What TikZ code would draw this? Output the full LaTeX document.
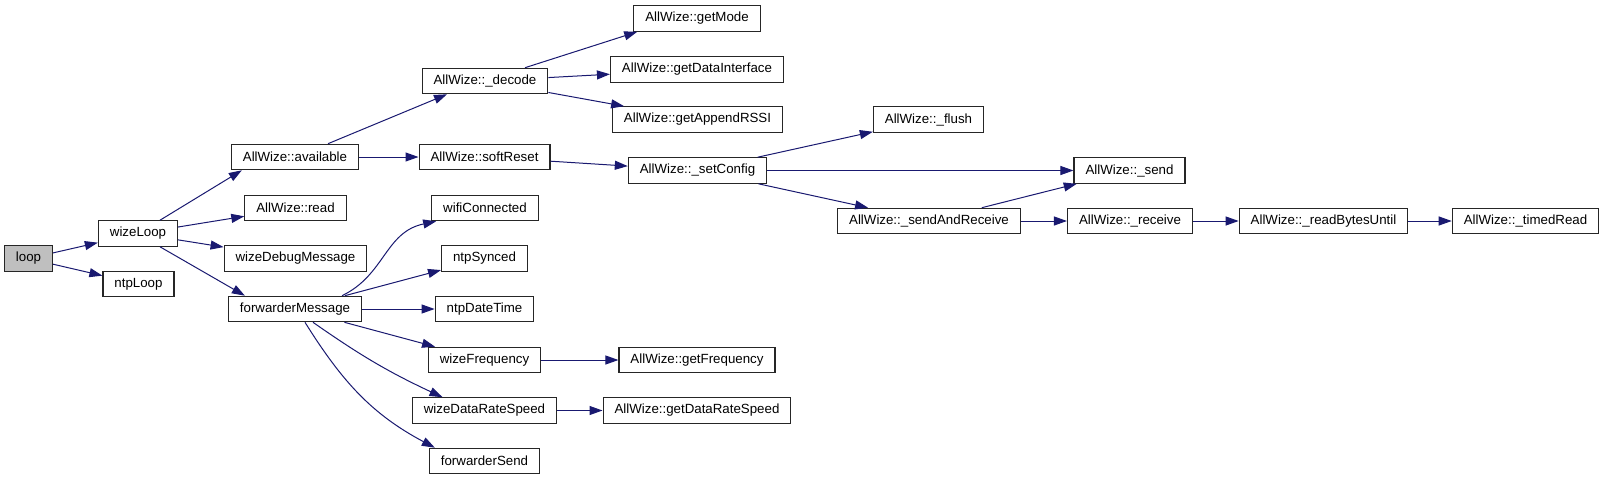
\documentclass[tikz,border=0pt]{standalone}
\usepackage{fontspec}
\setmainfont{Liberation Sans}
\usepackage{xcolor}
\usetikzlibrary{arrows.meta}
\definecolor{edgeBlue}{HTML}{191970}
\definecolor{rootGray}{HTML}{BFBFBF}

\begin{document}
\begin{tikzpicture}[
    x=1pt, y=1pt,
    fn/.style={draw=black!85, fill=white, line width=1.1pt, inner xsep=11.5pt, inner ysep=0pt,
               minimum height=25.5pt, font=\fontsize{13.3}{16}\selectfont},
    root/.style={fn, fill=rootGray},
    call/.style={draw=edgeBlue, line width=1pt, -{Triangle[length=13pt,width=9pt]}},
]
  \useasboundingbox (0,0) rectangle (1607,-480);
  % column 0/1
  \node[root] (loop)     at (28.5,-258.5) {loop};
  \node[fn]   (wizeLoop) at (138,-233.5)  {wizeLoop};
  \node[fn]   (ntpLoop)  at (138.5,-284)  {ntpLoop};
  % column 2
  \node[fn] (available) at (295,-157)   {AllWize::available};
  \node[fn] (read)      at (295.5,-208) {AllWize::read};
  \node[fn] (debugMsg)  at (295.5,-258.5) {wizeDebugMessage};
  \node[fn] (fwdMsg)    at (295,-309)   {forwarderMessage};
  % column 3
  \node[fn] (decode)    at (485,-81)     {AllWize::\_decode};
  \node[fn] (softReset) at (484.5,-157)  {AllWize::softReset};
  \node[fn] (wifiConn)  at (485,-208)    {wifiConnected};
  \node[fn] (ntpSynced) at (484.5,-258.5) {ntpSynced};
  \node[fn] (ntpDate)   at (484.5,-309)  {ntpDateTime};
  \node[fn] (wizeFreq)  at (484.5,-360)  {wizeFrequency};
  \node[fn] (wizeRate)  at (484.5,-410.5) {wizeDataRateSpeed};
  \node[fn] (fwdSend)   at (484.5,-461)  {forwarderSend};
  % column 4
  \node[fn] (getMode)   at (697,-18.5)   {AllWize::getMode};
  \node[fn] (getIface)  at (697,-69.5)   {AllWize::getDataInterface};
  \node[fn] (getRssi)   at (697.5,-119.5) {AllWize::getAppendRSSI};
  \node[fn] (setConfig) at (697.5,-170.5) {AllWize::\_setConfig};
  \node[fn] (getFreq)   at (697,-360)    {AllWize::getFrequency};
  \node[fn] (getRate)   at (697,-410.5)  {AllWize::getDataRateSpeed};
  % column 5..8
  \node[fn] (flush)     at (928.5,-119.5) {AllWize::\_flush};
  \node[fn] (sendRecv)  at (929,-221)     {AllWize::\_sendAndReceive};
  \node[fn] (send)      at (1129.5,-170.5) {AllWize::\_send};
  \node[fn] (receive)   at (1130,-221)    {AllWize::\_receive};
  \node[fn] (readUntil) at (1323.5,-221)  {AllWize::\_readBytesUntil};
  \node[fn] (timedRead) at (1525.5,-221)  {AllWize::\_timedRead};
  % calls
  \draw[call] (loop) -- (wizeLoop);
  \draw[call] (loop) -- (ntpLoop);
  \draw[call] ([xshift=22pt]wizeLoop.north) -- ([xshift=11pt]available.south west);
  \draw[call] (wizeLoop) -- (read);
  \draw[call] (wizeLoop) -- (debugMsg);
  \draw[call] ([xshift=22pt]wizeLoop.south) -- ([xshift=17pt]fwdMsg.north west);
  \draw[call] ([xshift=33pt]available.north) -- ([xshift=-38pt]decode.south);
  \draw[call] (available) -- (softReset);
  \draw[call] ([xshift=40pt]decode.north) -- ([xshift=4pt]getMode.south west);
  \draw[call] (decode) -- (getIface);
  \draw[call] (decode) -- (getRssi);
  \draw[call] (softReset) -- (setConfig);
  \draw[call] (setConfig) -- (flush);
  \draw[call] (setConfig) -- (send);
  \draw[call] (setConfig) -- (sendRecv);
  \draw[call] (sendRecv) -- (send);
  \draw[call] (sendRecv) -- (receive);
  \draw[call] (receive) -- (readUntil);
  \draw[call] (readUntil) -- (timedRead);
  \draw[call] ([xshift=47pt]fwdMsg.north) .. controls (385,-275) and (385,-232) .. ([xshift=5pt]wifiConn.south west);
  \draw[call] (fwdMsg) -- (ntpSynced);
  \draw[call] (fwdMsg) -- (ntpDate);
  \draw[call] (fwdMsg) -- (wizeFreq);
  \draw[call] ([xshift=18pt]fwdMsg.south) to[out=-35,in=155] ([xshift=-42pt]wizeRate.north);
  \draw[call] ([xshift=10pt]fwdMsg.south) to[out=-58,in=152] ([xshift=6pt]fwdSend.north west);
  \draw[call] (wizeFreq) -- (getFreq);
  \draw[call] (wizeRate) -- (getRate);
\end{tikzpicture}
\end{document}
